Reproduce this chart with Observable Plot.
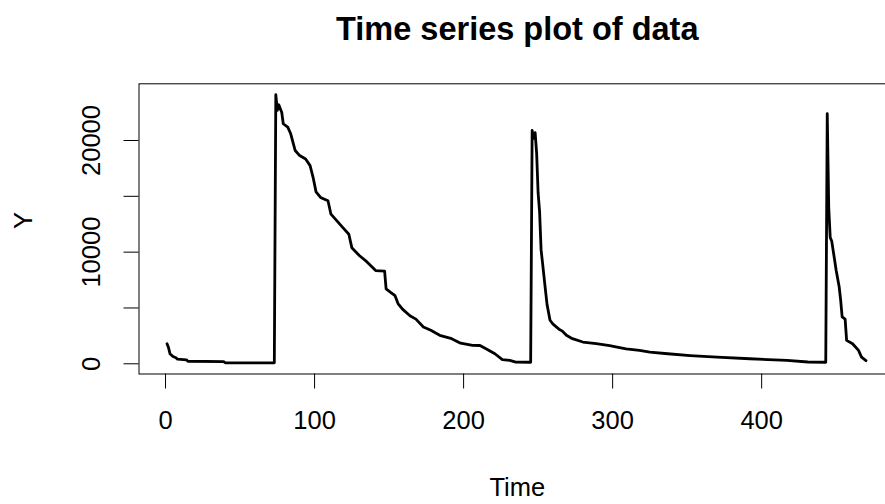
<!DOCTYPE html>
<html>
<head>
<meta charset="utf-8">
<script src="https://cdn.jsdelivr.net/npm/d3@7"></script>
<script src="https://cdn.jsdelivr.net/npm/@observablehq/plot@0.6"></script>
<style>
  html, body { margin: 0; padding: 0; background: white; overflow: hidden; }
  #chart { width: 885px; height: 504px; overflow: hidden; }
  #chart svg { max-width: none !important; display: block; }
</style>
</head>
<body>
<div id="chart"></div>
<script>
const titleText = "Time series plot of data";
const xLabel = "Time";
const yLabel = "Y";
const xTicks = [0, 100, 200, 300, 400];
const yTicks = [0, 5000, 10000, 15000, 20000];
const yTickLabels = ["0", "", "10000", "", "20000"];

const time = [
  1, 2, 3, 5, 7, 8, 14, 15, 39, 40, 73,
  74, 75, 76, 78, 79, 82, 84, 87, 90, 94, 97, 99, 101, 104, 109, 111, 115, 119, 123, 125, 130, 135, 141, 147,
  148, 151, 154, 156, 159, 164, 168, 173, 178, 184, 192, 198, 206, 211, 215, 221, 226, 231, 235, 245,
  246, 247, 248, 249, 250, 251, 252, 253, 255, 256, 258, 260, 264, 266, 269, 273, 280, 289, 298, 303,
  309, 318, 325, 337, 352, 370, 392, 417, 431, 443,
  444, 445, 446, 447, 449, 450, 452, 453, 454, 456, 457, 461, 465, 467, 470
];
const value = [
  1800, 1450, 900, 650, 540, 420, 360, 230, 200, 90, 90,
  24100, 22700, 23200, 22500, 21500, 21200, 20600, 19100, 18650, 18350, 17750, 16700, 15400, 14900, 14600, 13400, 12800, 12200, 11600, 10400, 9700, 9150, 8350, 8300,
  6700, 6400, 6100, 5400, 4900, 4300, 4000, 3300, 3000, 2550, 2250, 1850, 1650, 1640, 1350, 900, 380, 300, 150, 140,
  20900, 20200, 20700, 18900, 15300, 13600, 10200, 9000, 6500, 5300, 3900, 3550, 3100, 2950, 2550, 2250, 1950, 1800, 1620, 1500,
  1340, 1200, 1040, 900, 740, 600, 450, 300, 160, 140,
  22400, 14000, 11300, 11000, 9250, 8350, 6900, 5700, 4200, 4000, 2100, 1800, 1200, 600, 280
];

const data = time.map((t, i) => ({t, v: value[i]}));
const font = "'Liberation Sans', Arial, Helvetica, sans-serif";

const chart = Plot.plot({
  width: 897,
  height: 504,
  marginLeft: 138.5,
  marginRight: 2,
  marginTop: 83.3,
  marginBottom: 130.5,
  style: {fontFamily: font, background: "white", color: "black", maxWidth: "none"},
  x: {domain: [-17.8, 489.8]},
  y: {domain: [-914, 25078]},
  marks: [
    Plot.frame({stroke: "black", strokeWidth: 1}),
    Plot.axisX({ticks: xTicks, tickSize: 15, tickPadding: 22, fontSize: 25.5, label: null, stroke: "black"}),
    Plot.axisY({ticks: yTicks, tickSize: 15, tickFormat: () => "", label: null, stroke: "black"}),
    Plot.text(yTicks.map((y, i) => ({y, label: yTickLabels[i]})).filter(d => d.label), {
      y: "y", text: "label", frameAnchor: "left", rotate: -90, dx: -47,
      fontSize: 25.5, lineAnchor: "middle", textAnchor: "middle", fill: "black"
    }),
    Plot.line(data, {x: "t", y: "v", stroke: "black", strokeWidth: 2.8, strokeLinejoin: "round", strokeLinecap: "round"}),
    Plot.text([titleText], {frameAnchor: "top", dy: -67, lineAnchor: "top", fontSize: 32.5, fontWeight: "bold", fill: "black"}),
    Plot.text([xLabel], {frameAnchor: "bottom", dy: 104, lineAnchor: "top", fontSize: 25.5, fill: "black"}),
    Plot.text([yLabel], {frameAnchor: "left", dx: -115.5, rotate: -90, lineAnchor: "middle", fontSize: 25.5, fill: "black"})
  ]
});
document.getElementById("chart").appendChild(chart);
</script>
</body>
</html>
